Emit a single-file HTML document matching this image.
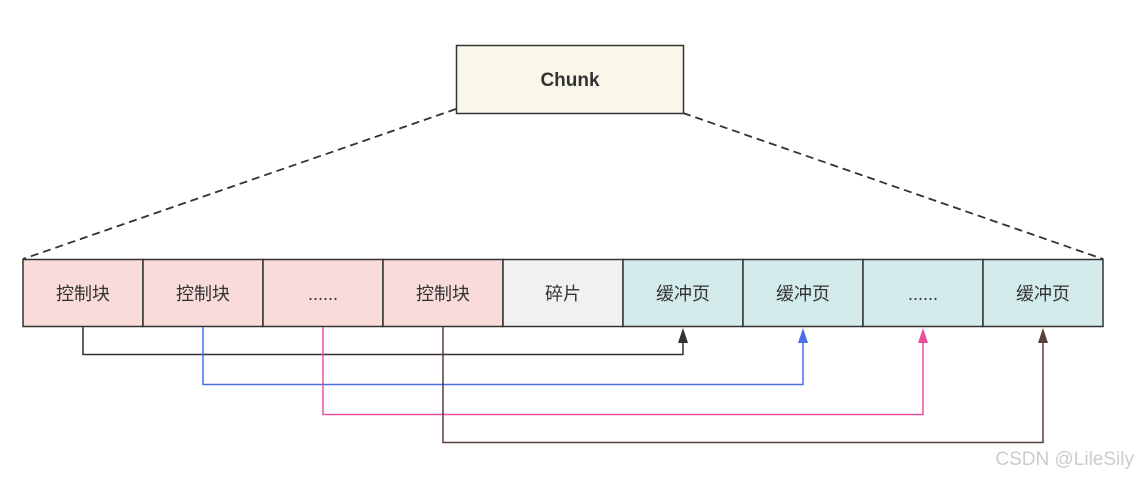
<!DOCTYPE html>
<html><head><meta charset="utf-8"><style>
body{margin:0;background:#fff;width:1138px;height:477px;overflow:hidden}
svg text{font-family:"Liberation Sans","Noto Sans CJK SC",sans-serif}
</style></head><body>
<svg width="1138" height="477" xmlns="http://www.w3.org/2000/svg">
<line x1="456" y1="109" x2="23" y2="259" stroke="#333" stroke-width="1.8" stroke-dasharray="8,5"/>
<line x1="683" y1="113" x2="1103" y2="259" stroke="#333" stroke-width="1.8" stroke-dasharray="8,5"/>
<rect x="456.5" y="45.5" width="227" height="68" fill="#f9f7e8" stroke="#333" stroke-width="1.5"/>
<text x="570" y="86" font-size="19" font-weight="bold" fill="#333" text-anchor="middle">Chunk</text>
<g stroke="#333" stroke-width="1.5">
<rect x="23" y="259.5" width="120" height="67" fill="#f9dbd9"/>
<rect x="143" y="259.5" width="120" height="67" fill="#f9dbd9"/>
<rect x="263" y="259.5" width="120" height="67" fill="#f9dbd9"/>
<rect x="383" y="259.5" width="120" height="67" fill="#f9dbd9"/>
<rect x="503" y="259.5" width="120" height="67" fill="#f1f1f1"/>
<rect x="623" y="259.5" width="120" height="67" fill="#d4ebec"/>
<rect x="743" y="259.5" width="120" height="67" fill="#d4ebec"/>
<rect x="863" y="259.5" width="120" height="67" fill="#d4ebec"/>
<rect x="983" y="259.5" width="120" height="67" fill="#d4ebec"/>
</g>
<g font-size="18" fill="#333" text-anchor="middle">
<text x="83" y="300">控制块</text><text x="203" y="300">控制块</text><text x="323" y="300">......</text>
<text x="443" y="300">控制块</text><text x="563" y="300">碎片</text><text x="683" y="300">缓冲页</text>
<text x="803" y="300">缓冲页</text><text x="923" y="300">......</text><text x="1043" y="300">缓冲页</text>
</g>
<g fill="none" stroke-width="1.5">
<polyline points="83,327 83,354.5 683,354.5 683,340" stroke="#333"/>
<polyline points="203,327 203,384.5 803,384.5 803,340" stroke="#4a6ee8"/>
<polyline points="323,327 323,414.5 923,414.5 923,340" stroke="#e8509e"/>
<polyline points="443,327 443,442.5 1043,442.5 1043,340" stroke="#5a3e38"/>
</g>
<polygon points="683,328 678,343 688,343" fill="#333"/>
<polygon points="803,328 798,343 808,343" fill="#4a6ee8"/>
<polygon points="923,328 918,343 928,343" fill="#e8509e"/>
<polygon points="1043,328 1038,343 1048,343" fill="#5a3e38"/>
<text x="1134" y="465" font-size="19" fill="#ccc" text-anchor="end">CSDN @LileSily</text>
</svg>
</body></html>
